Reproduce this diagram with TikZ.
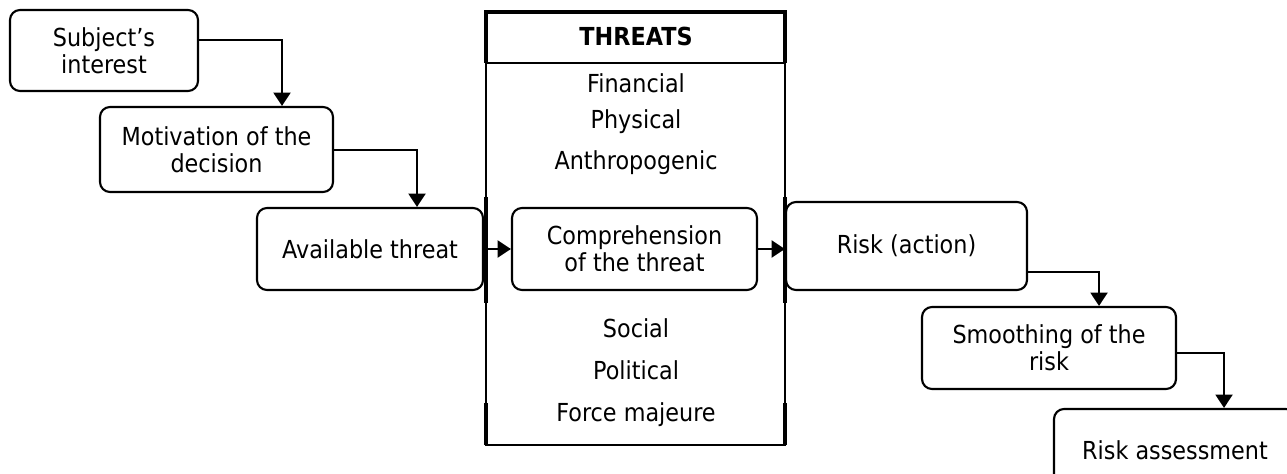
\documentclass[tikz,border=0pt]{standalone}
\usepackage{fontspec}
\setmainfont{DejaVu Sans}[FakeStretch=0.9]
\usetikzlibrary{arrows.meta,calc}
\tikzset{
  centered/.style = { align=center, anchor=center },
     block/.style = { draw, line width=1.6pt, rounded corners=7.5pt, centered,
                      inner sep=0pt, font=\fontsize{18.6}{20.25}\selectfont },
      item/.style = { centered, font=\fontsize{18.6}{20.25}\selectfont },
     arrow/.style = { line width=1.5pt, -{Triangle[length=10pt,width=12.75pt]} },
      thin/.style = { line width=0.8pt },
     heavy/.style = { line width=2.3pt },
}

\begin{document}
\begin{tikzpicture}[x=0.75pt, y=-0.75pt]
  \useasboundingbox (0,0) rectangle (1287,474);
  \clip (0,0) rectangle (1287,474);

  % threats table
  \draw[thin] (486,12) rectangle (785,445);
  \draw[thin] (486,63) -- (785,63);
  \draw[heavy] (486,63) -- (486,12) -- (785,12) -- (785,63);
  \foreach \x in {486,785}{
    \draw[heavy] (\x,197) -- (\x,303);
    \draw[heavy] (\x,403) -- (\x,445);
  }
  \node[item, font=\fontsize{18.6}{20.25}\selectfont\bfseries] (threats) at (636,36) {THREATS};
  \foreach \name/\y/\txt in {fin/83/Financial, phys/122/Physical, anthr/163/Anthropogenic,
                             soc/328/Social, pol/370/Political, force/415/Force majeure}{
    \node[item] (\name) at (636,\y) {\txt};
  }

  % chain of blocks
  \node[block, minimum width=141pt,    minimum height=60.75pt] (subj)   at (104,50.5)   {Subject’s\\interest};
  \node[block, minimum width=174.75pt, minimum height=63.75pt] (motiv)  at (216.5,149.5) {Motivation of the\\decision};
  \node[block, minimum width=169.5pt,  minimum height=61.5pt]  (avail)  at (370,249)    {Available threat};
  \node[block, minimum width=183.75pt, minimum height=61.5pt]  (comp)   at (634.5,249)  {Comprehension\\of the threat};
  \node[block, minimum width=180.75pt, minimum height=66pt]    (risk)   at (906.5,246)  {Risk (action)};
  \node[block, minimum width=190.5pt,  minimum height=61.5pt]  (smooth) at (1049,348)   {Smoothing of the\\risk};
  \node[block, minimum width=181.5pt,  minimum height=61.5pt]  (assess) at (1175,450)   {Risk assessment};

  \draw[arrow] ($(subj.east)+(0,-10.5)$) -| ($(motiv.north)+(65.5,0)$);
  \draw[arrow] ($(motiv.east)+(0,0.5)$) -| ($(avail.north)+(47,0)$);
  \draw[arrow] (avail.east) -- (comp.west);
  \draw[arrow] (comp.east) -- (risk.west |- comp.east);
  \draw[arrow] ($(risk.east)+(0,26)$) -| ($(smooth.north)+(50,0)$);
  \draw[arrow] ($(smooth.east)+(0,5)$) -| ($(assess.north)+(49,0)$);

\end{tikzpicture}
\end{document}
